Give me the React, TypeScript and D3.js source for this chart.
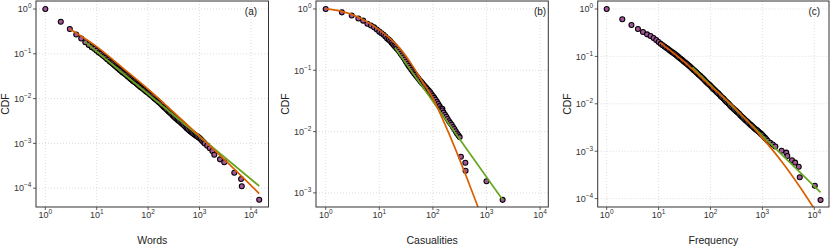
import React from 'react';
import * as d3 from 'd3';

// x ticks shared by all three panels (powers of ten)
const xTickExps = [0, 1, 2, 3, 4];

// ---- (a) Words ----
const wordsPoints: [number, number][] = [
  [1, 1], [2, 0.52], [3, 0.358], [4, 0.27], [5, 0.22],
  [6, 0.182], [7, 0.158], [8, 0.141], [9, 0.129], [10, 0.117], [11, 0.107], [12, 0.1],
  [13, 0.0933], [14, 0.0871], [15, 0.0813], [16, 0.0759], [17, 0.0724], [18, 0.0676],
  [19, 0.0646], [20, 0.0617], [21.1, 0.0582], [22.4, 0.055], [23.7, 0.0519], [25.1, 0.049],
  [26.6, 0.0462], [28.2, 0.0437], [29.9, 0.0412], [31.6, 0.0389], [33.5, 0.0372], [35.5, 0.0355],
  [37.6, 0.0335], [39.8, 0.0316], [42.2, 0.0299], [44.7, 0.0282], [47.3, 0.0266], [50.1, 0.0251],
  [53.1, 0.024], [56.2, 0.0229], [59.6, 0.0216], [63.1, 0.0204], [66.8, 0.0193], [70.8, 0.0182],
  [75, 0.0174], [79.4, 0.0166], [84.1, 0.0157], [89.1, 0.0148], [94.4, 0.0141], [100, 0.0135],
  [106, 0.0127], [112, 0.012], [119, 0.0114], [126, 0.0107], [133, 0.0101], [141, 0.00955],
  [150, 0.00902], [158, 0.00851], [168, 0.00804], [178, 0.00759], [188, 0.00708], [200, 0.00661],
  [211, 0.00624], [224, 0.00589], [237, 0.0055], [251, 0.00513], [266, 0.00484], [282, 0.00457],
  [299, 0.00427], [316, 0.00398], [335, 0.00376], [355, 0.00355], [376, 0.00335], [398, 0.00316],
  [422, 0.00299], [447, 0.00282], [473, 0.00266], [501, 0.00251], [531, 0.00234], [562, 0.00219],
  [596, 0.00207], [631, 0.00195], [668, 0.00184], [708, 0.00174], [750, 0.00166], [794, 0.00158],
  [841, 0.00151], [891, 0.00145], [944, 0.00138], [1000, 0.00132], [1059, 0.00123],
  [1122, 0.00115], [1189, 0.00107], [1259, 0.001], [1413, 0.000891], [1585, 0.000776],
  [1778, 0.000676], [1940, 0.00056], [2500, 0.00044], [3030, 0.00038], [4750, 0.00022],
  [6440, 0.00016], [6640, 0.00011], [14500, 0.000055],
];
const wordsLognormal: [number, number][] = [
  [3, 0.358], [10, 0.1445], [31.6, 0.049], [100, 0.0162], [316, 0.0049], [1000, 0.00145],
  [3162, 0.000417], [14500, 0.000076],
];
const wordsPowerLaw: [number, number][] = [[5.9, 0.186], [14500, 0.000112]];
const wordsYTicks = [0, -1, -2, -3, -4];

// ---- (b) Casualities ----
const casualtyPoints: [number, number][] = [
  [1, 1], [2, 0.88], [3.06, 0.78], [4.07, 0.7], [5, 0.645],
  [6, 0.575], [7, 0.537], [8, 0.501], [9, 0.462], [10, 0.427], [11, 0.403], [12, 0.38],
  [13, 0.355], [14, 0.331], [15, 0.316], [16, 0.299], [17, 0.282], [18, 0.266], [19, 0.251],
  [20, 0.24], [21.1, 0.226], [22.4, 0.214], [23.7, 0.2], [25.1, 0.186], [26.6, 0.174],
  [28.2, 0.162], [29.9, 0.15], [31.6, 0.138], [33.5, 0.127], [35.5, 0.117], [37.6, 0.11],
  [39.8, 0.102], [42.2, 0.0955], [44.7, 0.0891], [47.3, 0.0841], [50.1, 0.0794], [53.1, 0.0741],
  [56.2, 0.0692], [59.6, 0.0653], [63.1, 0.0617], [66.8, 0.0582], [70.8, 0.055], [75, 0.0519],
  [79.4, 0.049], [84.1, 0.0462], [89.1, 0.0437], [94.4, 0.0407], [100, 0.038], [106, 0.0355],
  [112, 0.0331], [119, 0.0305], [126, 0.0282], [133, 0.026], [141, 0.024], [150, 0.0235],
  [150, 0.0221], [158, 0.0204], [168, 0.0188], [178, 0.0174], [188, 0.016], [200, 0.0148],
  [211, 0.0138], [224, 0.0129], [237, 0.0119], [251, 0.011], [266, 0.0101], [282, 0.00933],
  [299, 0.00871], [316, 0.00813], [333, 0.0039], [403, 0.0031], [407, 0.0023], [1000, 0.00155],
  [2000, 0.00077],
];
const casualtyLognormal: [number, number][] = [
  [1, 1], [2, 0.912], [3.98, 0.741], [7.94, 0.525], [10, 0.457], [15.8, 0.331], [25.1, 0.219],
  [39.8, 0.126], [63.1, 0.0661], [100, 0.0347], [158, 0.0148], [251, 0.00575], [398, 0.00209],
  [708, 0.000562],
];
const casualtyPowerLaw: [number, number][] = [[19.5, 0.234], [2000, 0.000776]];
const casualtyYTicks = [0, -1, -2, -3];

// ---- (c) Frequency ----
const frequencyPoints: [number, number][] = [
  [1, 1], [2, 0.61], [3, 0.46], [4, 0.38], [5, 0.327], [6, 0.292], [7, 0.269], [8, 0.245],
  [9, 0.222], [10, 0.201], [11, 0.184], [12, 0.172], [13, 0.162], [14, 0.153], [15, 0.145],
  [16, 0.136], [17, 0.13], [18, 0.124], [19, 0.119], [20, 0.115], [21.1, 0.11], [22.4, 0.105],
  [23.7, 0.0989], [25.1, 0.0933], [26.6, 0.0891], [28.2, 0.0851], [29.9, 0.0804], [31.6, 0.0759],
  [33.5, 0.0724], [35.5, 0.0692], [37.6, 0.0653], [39.8, 0.0617], [42.2, 0.0582], [44.7, 0.055],
  [47.3, 0.0519], [50.1, 0.049], [53.1, 0.0462], [56.2, 0.0437], [59.6, 0.0412], [63.1, 0.0389],
  [66.8, 0.0367], [70.8, 0.0347], [75, 0.0324], [79.4, 0.0302], [84.1, 0.0285], [89.1, 0.0269],
  [94.4, 0.0254], [100, 0.024], [106, 0.0224], [112, 0.0209], [119, 0.0197], [126, 0.0186],
  [133, 0.0176], [141, 0.0166], [150, 0.0155], [158, 0.0145], [168, 0.0136], [178, 0.0129],
  [188, 0.012], [200, 0.0112], [211, 0.0106], [224, 0.01], [237, 0.00933], [251, 0.00871],
  [266, 0.00822], [282, 0.00776], [299, 0.00733], [316, 0.00692], [335, 0.00653], [355, 0.00617],
  [376, 0.00575], [398, 0.00537], [422, 0.00507], [447, 0.00479], [473, 0.00452], [501, 0.00427],
  [531, 0.00403], [562, 0.0038], [596, 0.00359], [631, 0.00339], [668, 0.0032], [708, 0.00302],
  [750, 0.00288], [794, 0.00275], [841, 0.0026], [891, 0.00245], [944, 0.00232], [1000, 0.00219],
  [1059, 0.00204], [1122, 0.00191], [1189, 0.00178], [1259, 0.00166], [1413, 0.00151],
  [1585, 0.00138], [1778, 0.00126], [2344, 0.00102], [2884, 0.000933], [3020, 0.000794],
  [3715, 0.000646], [4266, 0.000575], [5012, 0.000468], [5248, 0.000282], [10230, 0.000186],
  [13180, 0.0000933],
];
const frequencyLognormal: [number, number][] = [
  [10.7, 0.195], [31.6, 0.0759], [100, 0.024], [316, 0.00759], [1000, 0.00191], [2512, 0.00055],
  [5012, 0.000191], [11220, 0.0000501],
];
const frequencyPowerLaw: [number, number][] = [[44.7, 0.0589], [13180, 0.000135]];
const frequencyYTicks = [0, -1, -2, -3, -4];

const panels = [
  {
    id: 'a', tag: '(a)', title: 'Words', points: wordsPoints, lognormal: wordsLognormal,
    powerLaw: wordsPowerLaw, yTicks: wordsYTicks,
    left: 36, right: 268.5, xExp: [-0.181, 4.342], yExp: [-4.42, 0.179],
  },
  {
    id: 'b', tag: '(b)', title: 'Casualities', points: casualtyPoints, lognormal: casualtyLognormal,
    powerLaw: casualtyPowerLaw, yTicks: casualtyYTicks,
    left: 316, right: 548.3, xExp: [-0.181, 4.153], yExp: [-3.23, 0.13],
  },
  {
    id: 'c', tag: '(c)', title: 'Frequency', points: frequencyPoints, lognormal: frequencyLognormal,
    powerLaw: frequencyPowerLaw, yTicks: frequencyYTicks,
    left: 597.7, right: 829, xExp: [-0.173, 4.283], yExp: [-4.177, 0.169],
  },
];

const top = 1;
const bottom = 207;
const font = '"Liberation Sans", Arial, Helvetica, sans-serif';
const orange = '#d95f02';
const green = '#66a61e';
const purple = '#a6559d';

function pow(e: number) {
  return e < 0 ? '\u2212' + Math.abs(e) : String(e);
}

function Panel({ p }: { p: (typeof panels)[number] }) {
  const x = d3.scaleLog().domain([10 ** p.xExp[0], 10 ** p.xExp[1]]).range([p.left, p.right]);
  const y = d3.scaleLog().domain([10 ** p.yExp[0], 10 ** p.yExp[1]]).range([bottom, top]);
  const line = d3.line<[number, number]>()
    .x(d => x(d[0]))
    .y(d => y(d[1]))
    .curve(d3.curveMonotoneX);
  const clipId = 'clip-' + p.id;

  return (
    <g>
      <defs>
        <clipPath id={clipId}>
          <rect x={p.left} y={top} width={p.right - p.left} height={bottom - top} />
        </clipPath>
      </defs>
      {/* grid */}
      {xTickExps.map(e => (
        <line key={'gx' + e} x1={x(10 ** e)} x2={x(10 ** e)} y1={top} y2={bottom}
          stroke="#cfcfcf" strokeWidth={0.7} strokeDasharray="1,2" />
      ))}
      {p.yTicks.map(e => (
        <line key={'gy' + e} x1={p.left} x2={p.right} y1={y(10 ** e)} y2={y(10 ** e)}
          stroke="#cfcfcf" strokeWidth={0.7} strokeDasharray="1,2" />
      ))}
      {/* data */}
      <g clipPath={`url(#${clipId})`}>
        {p.points.map((d, i) => (
          <circle key={i} cx={x(d[0])} cy={y(d[1])} r={2.5} fill={purple} stroke="#000" strokeWidth={1.05} />
        ))}
        <path d={line(p.powerLaw) || ''} fill="none" stroke={green} strokeWidth={1.7} />
        <path d={line(p.lognormal) || ''} fill="none" stroke={orange} strokeWidth={1.7} />
      </g>
      {/* frame */}
      <rect x={p.left} y={top} width={p.right - p.left} height={bottom - top}
        fill="none" stroke="#333" strokeWidth={1} />
      {/* x axis */}
      {xTickExps.map(e => (
        <g key={'tx' + e}>
          <line x1={x(10 ** e)} x2={x(10 ** e)} y1={bottom} y2={bottom + 3} stroke="#333" strokeWidth={0.8} />
          <text x={x(10 ** e)} y={218} textAnchor="middle" fontSize={9} fill="#333" fontFamily={font}>
            10<tspan dy={-4} fontSize={6.5}>{pow(e)}</tspan>
          </text>
        </g>
      ))}
      {/* y axis */}
      {p.yTicks.map(e => (
        <g key={'ty' + e}>
          <line x1={p.left - 3} x2={p.left} y1={y(10 ** e)} y2={y(10 ** e)} stroke="#333" strokeWidth={0.8} />
          <text x={p.left - 4.5} y={y(10 ** e) + 3.3} textAnchor="end" fontSize={9} fill="#333" fontFamily={font}>
            10<tspan dy={-4} fontSize={6.5}>{pow(e)}</tspan>
          </text>
        </g>
      ))}
      <text x={(p.left + p.right) / 2} y={244} textAnchor="middle" fontSize={10.5} fill="#222" fontFamily={font}>
        {p.title}
      </text>
      <text transform={`translate(${p.left - 27},${(top + bottom) / 2}) rotate(-90)`} textAnchor="middle"
        fontSize={10.5} fill="#222" fontFamily={font}>
        CDF
      </text>
      <text x={x(1e4)} y={15} textAnchor="middle" fontSize={10} fill="#222" fontFamily={font}>
        {p.tag}
      </text>
    </g>
  );
}

export default function App() {
  return (
    <div style={{ position: 'absolute', left: 0, top: 0 }}>
      <svg width={830} height={248} style={{ display: 'block', background: '#fff' }}>
        {panels.map(p => <Panel key={p.id} p={p} />)}
      </svg>
    </div>
  );
}
